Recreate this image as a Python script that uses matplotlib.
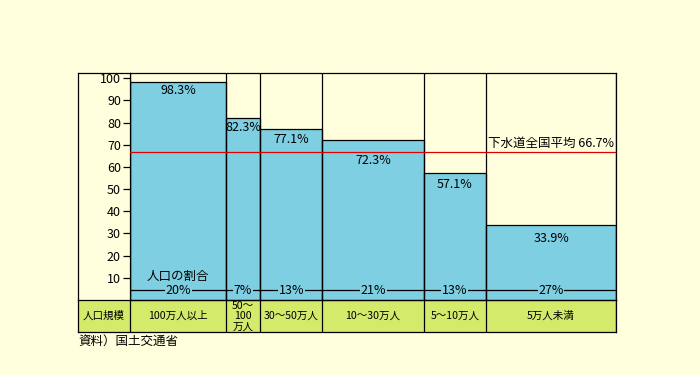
import matplotlib
matplotlib.use("Agg")
import matplotlib.pyplot as plt
import numpy as np

plt.rcParams['font.family'] = ['Noto Sans CJK JP', 'DejaVu Sans']

# ---- data ----
categories = ["100万人以上", "50～\n100\n万人", "30～50万人", "10～30万人", "5～10万人", "5万人未満"]
pop_share = [20, 7, 13, 21, 13, 27]          # 人口の割合 (%)
sewer_rate = [98.3, 82.3, 77.1, 72.3, 57.1, 33.9]  # 下水道普及率 (%)
national_avg = 66.7
yticks = [10, 20, 30, 40, 50, 60, 70, 80, 90, 100]
row_header = "人口規模"
pop_label = "人口の割合"
avg_label = "下水道全国平均 66.7%"
source = "資料）国土交通省"

# ---- style ----
CREAM = "#FFFFDD"
BLUE = "#7ECFE2"
GREEN = "#D3EA6B"
RED = "#E00000"
FS = 9
TFS = 7.6
LW = 0.9
W, H = 700, 375

def fr(x0, y0, x1, y1):
    return [x0 / W, 1 - y1 / H, (x1 - x0) / W, (y1 - y0) / H]

fig = plt.figure(figsize=(7, 3.75), dpi=100, facecolor=CREAM)

LEFT, LCOL, RIGHT, TOP, ZERO, BOT = 78, 130, 616, 73, 300, 332
total = sum(pop_share)
px_per_unit_x = (RIGHT - LCOL) / total
left_units = (LCOL - LEFT) / px_per_unit_x
px_per_unit_y = 2.217
ytop = (ZERO - TOP) / px_per_unit_y

# left column (upper)
axl = fig.add_axes(fr(LEFT, TOP, LCOL, ZERO))
axl.set_facecolor(CREAM)
axl.set_xticks([]); axl.set_yticks([])
for s in ["right", "bottom"]:
    axl.spines[s].set_visible(False)
for s in ["left", "top"]:
    axl.spines[s].set_linewidth(LW)

# table row
axt = fig.add_axes(fr(LEFT, ZERO, RIGHT, BOT))
axt.set_facecolor(GREEN)
axt.set_xlim(-left_units, total)
axt.set_ylim(0, 1)
axt.set_xticks([]); axt.set_yticks([])
for s in axt.spines.values():
    s.set_linewidth(LW)

# main plot
ax = fig.add_axes(fr(LCOL, TOP, RIGHT, ZERO))
ax.set_facecolor(CREAM)
ax.set_xlim(0, total)
ax.set_ylim(0, ytop)
for s in ax.spines.values():
    s.set_linewidth(LW)

edges = np.concatenate([[0], np.cumsum(pop_share)])
lefts = edges[:-1]
centers = lefts + np.array(pop_share) / 2

ax.bar(lefts, sewer_rate, width=pop_share, align="edge", color=BLUE,
       edgecolor="black", linewidth=LW, zorder=2)
for e in edges:
    ax.axvline(e, color="black", lw=LW, zorder=3)
    axt.axvline(e, color="black", lw=LW)

ax.set_yticks(yticks)
ax.set_yticklabels([str(t) for t in yticks], fontsize=FS)
ax.tick_params(axis="y", direction="out", length=5, width=LW, pad=1.5)
ax.set_xticks([])

# national average line
ax.axhline(national_avg, color=RED, lw=LW, zorder=4)
ax.text(total - 0.4, national_avg + 1.2, avg_label, ha="right", va="bottom",
        fontsize=FS, zorder=5)

# value labels
label_offsets_px = [8, 10, 10, 21, 11, 14]
for c, v, off in zip(centers, sewer_rate, label_offsets_px):
    ax.annotate(f"{v}%", (c, v), xytext=(0, -off), textcoords="offset pixels",
                ha="center", va="center", fontsize=FS, zorder=5)

# population share line and labels
pop_y = 4.5
ax.axhline(pop_y, color="black", lw=LW, zorder=4)
for c, p in zip(centers, pop_share):
    ax.text(c, pop_y, f"{p}%", ha="center", va="center", fontsize=FS, zorder=5,
            bbox=dict(facecolor=BLUE, edgecolor="none", pad=0.5))
ax.text(centers[0], 10.5, pop_label, ha="center", va="center", fontsize=FS, zorder=5)

# table labels
axt.text(-left_units / 2, 0.5, row_header, ha="center", va="center", fontsize=TFS)
for c, lab in zip(centers, categories):
    if "\n" in lab:
        axt.text(c, 0.5, lab, ha="center", va="center", fontsize=TFS, linespacing=1.05)
    else:
        axt.text(c, 0.5, lab, ha="center", va="center", fontsize=TFS)

fig.text(LEFT / W, 1 - 341 / H, source, ha="left", va="center", fontsize=FS)

fig.savefig("out.png", dpi=100, facecolor=CREAM)
